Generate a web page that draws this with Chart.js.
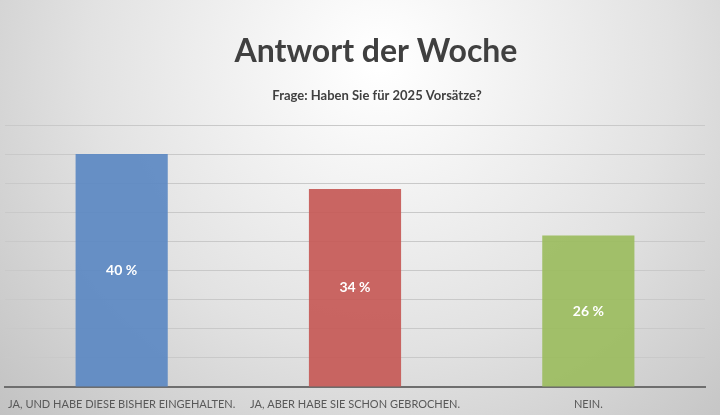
<!DOCTYPE html>
<html>
<head>
<meta charset="utf-8">
<script src="https://cdn.jsdelivr.net/npm/chart.js@4"></script>
<style>
  html, body { margin: 0; padding: 0; background: #fff; }
  #wrap { width: 720px; height: 415px; }
</style>
</head>
<body>
<div id="wrap"><canvas id="wochechart" width="720" height="415"></canvas></div>
<script>
var titleText = "Antwort der Woche";
var subtitleText = "Frage: Haben Sie für 2025 Vorsätze?";
var categories = ["JA, UND HABE DIESE BISHER EINGEHALTEN.", "JA, ABER HABE SIE SCHON GEBROCHEN.", "NEIN."];
var values = [40, 34, 26];
var barColors = ["rgba(92,137,195,0.93)", "rgba(198,90,87,0.93)", "rgba(156,188,96,0.93)"];

// grey radial background like the office chart
var backgroundPlugin = {
    id: "bg",
    beforeDraw: function (chart) {
        var ctx = chart.ctx;
        var g = ctx.createRadialGradient(380, 60, 10, 380, 60, 520);
        g.addColorStop(0, "#ffffff");
        g.addColorStop(0.55, "#e2e2e2");
        g.addColorStop(1, "#c2c2c2");
        ctx.save();
        ctx.fillStyle = g;
        ctx.fillRect(0, 0, chart.width, chart.height);
        ctx.restore();
    }
};

// title + question, drawn a bit right of centre like the original
var headerPlugin = {
    id: "header",
    afterDraw: function (chart) {
        var ctx = chart.ctx;
        ctx.save();
        ctx.textAlign = "center";
        ctx.textBaseline = "alphabetic";
        ctx.fillStyle = "#404040";
        ctx.font = "bold 32px Lato";
        ctx.fillText(titleText, 376, 62);
        ctx.font = "bold 13px Lato";
        ctx.fillText(subtitleText, 377, 100);
        ctx.restore();
    }
};

// value labels in the middle of each bar
var valueLabels = {
    id: "valueLabels",
    afterDatasetsDraw: function (chart) {
        var ctx = chart.ctx;
        var meta = chart.getDatasetMeta(0);
        ctx.save();
        ctx.fillStyle = "#ffffff";
        ctx.font = "bold 14px Lato";
        ctx.textAlign = "center";
        ctx.textBaseline = "middle";
        meta.data.forEach(function (bar, i) {
            ctx.fillText(values[i] + " %", bar.x, (bar.y + bar.base) / 2);
        });
        ctx.restore();
    }
};

var ctx = document.getElementById("wochechart").getContext("2d");
var myChart = new Chart(ctx, {
    type: "bar",
    data: {
        labels: categories,
        datasets: [{
            label: "Antwort",
            data: values,
            backgroundColor: barColors,
            borderWidth: 0,
            barPercentage: 0.395,
            categoryPercentage: 1
        }]
    },
    options: {
        responsive: false,
        animation: false,
        layout: { padding: { left: 5, right: 15, top: 125, bottom: 0 } },
        plugins: {
            legend: { display: false },
            title: { display: false },
            tooltip: { enabled: false }
        },
        scales: {
            x: {
                grid: { display: false },
                border: { color: "#6e6e6e", width: 2 },
                ticks: {
                    color: "#595959",
                    font: { family: "Lato", size: 11 },
                    maxRotation: 0,
                    autoSkip: false,
                    padding: 3
                },
                afterFit: function (scale) { scale.height = 28; }
            },
            y: {
                min: 0,
                max: 45,
                ticks: { display: false, stepSize: 5 },
                border: { display: false },
                grid: { color: "#c9c9c9", lineWidth: 1, drawTicks: false },
                afterFit: function (scale) { scale.width = 0; }
            }
        }
    },
    plugins: [backgroundPlugin, headerPlugin, valueLabels]
});
</script>
</body>
</html>
